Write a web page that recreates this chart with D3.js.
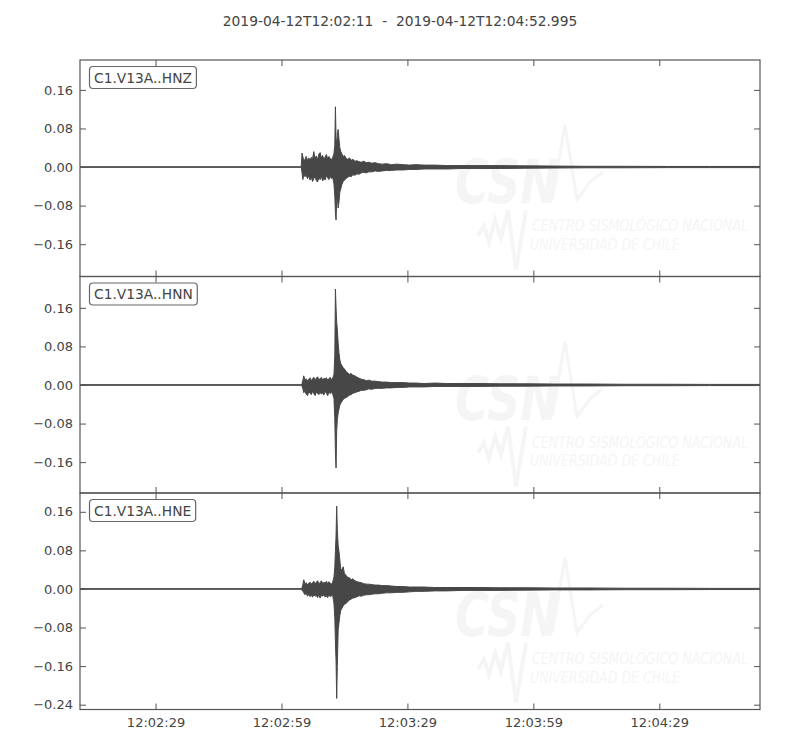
<!DOCTYPE html>
<html>
<head>
<meta charset="utf-8">
<script src="https://cdn.jsdelivr.net/npm/d3@7"></script>
<style>
  html, body { margin: 0; padding: 0; background: #fff; }
  svg { display: block; font-family: "DejaVu Sans", sans-serif; }
  .pre { white-space: pre; }
</style>
</head>
<body>
<svg id="chart" width="800" height="750"></svg>
<script>
// ---------------- DATA ----------------
const titleText = "2019-04-12T12:02:11  -  2019-04-12T12:04:52.995";
const startIso = "2019-04-12T12:02:11Z";
const durationSec = 161.995;
const channels = ["C1.V13A..HNZ", "C1.V13A..HNN", "C1.V13A..HNE"];

// seconds after start time
const timeSec = [0, 52.7, 52.9, 53.1, 53.3, 53.6, 53.9, 54.2, 54.5, 54.8, 55.1, 55.4, 55.7, 56.0, 56.3, 56.6, 56.9,
  57.2, 57.5, 57.8, 58.1, 58.4, 58.7, 59.0, 59.3, 59.6, 59.9, 60.2, 60.5,
  60.7, 60.85, 61.0, 61.15, 61.3, 61.5, 61.7, 61.9, 62.1,
  62.4, 62.7, 63.0, 63.4, 63.8, 64.2, 64.6, 65.0, 65.5, 66.0, 66.5, 67.0, 67.6, 68.2, 68.8, 69.5, 70.3, 71.1,
  72.0, 73.0, 74.2, 75.5, 77.0, 78.5, 80.0,
  82.0, 84.5, 87.5, 91.0, 95.0, 100.0, 106.0, 113.0, 121.0, 130.0, 140.0, 150.0, 162.0];

// envelope maxima / minima per channel
const hnzMax = [0.0006, 0.0006, 0.029, 0.021, 0.012, 0.016, 0.022, 0.013, 0.019, 0.014, 0.020, 0.017, 0.032, 0.018, 0.023, 0.015, 0.027,
  0.030, 0.019, 0.024, 0.016, 0.021, 0.026, 0.017, 0.022, 0.018, 0.015, 0.020, 0.028,
  0.045, 0.125, 0.060, 0.048, 0.065, 0.078, 0.058, 0.040, 0.033,
  0.027, 0.022, 0.024, 0.018, 0.016, 0.019, 0.014, 0.016, 0.012, 0.013, 0.011, 0.010, 0.012, 0.009, 0.010, 0.008, 0.009, 0.007,
  0.006, 0.007, 0.005, 0.006, 0.005, 0.004, 0.005,
  0.004, 0.004, 0.003, 0.003, 0.003, 0.003, 0.0025, 0.002, 0.0015, 0.0015, 0.0012, 0.0012, 0.0012];
const hnzMin = [-0.0006, -0.0006, -0.012, -0.026, -0.015, -0.020, -0.017, -0.024, -0.018, -0.027, -0.021, -0.030, -0.024, -0.020, -0.028, -0.031, -0.022,
  -0.026, -0.019, -0.029, -0.023, -0.027, -0.018, -0.022, -0.026, -0.019, -0.024, -0.021, -0.035,
  -0.060, -0.095, -0.110, -0.070, -0.062, -0.085, -0.072, -0.052, -0.046,
  -0.036, -0.030, -0.027, -0.024, -0.021, -0.019, -0.020, -0.016, -0.017, -0.014, -0.015, -0.012, -0.011, -0.012, -0.010, -0.010, -0.008, -0.009,
  -0.008, -0.007, -0.007, -0.006, -0.006, -0.005, -0.005,
  -0.004, -0.004, -0.004, -0.003, -0.003, -0.003, -0.0025, -0.002, -0.0015, -0.0015, -0.0012, -0.0012, -0.0012];

const hnnMax = [0.0006, 0.0006, 0.003, 0.010, 0.019, 0.010, 0.013, 0.008, 0.012, 0.015, 0.009, 0.013, 0.016, 0.010, 0.014, 0.017, 0.011,
  0.013, 0.016, 0.010, 0.014, 0.012, 0.015, 0.010, 0.013, 0.016, 0.011, 0.014, 0.022,
  0.060, 0.199, 0.160, 0.130, 0.115, 0.088, 0.066, 0.052, 0.045,
  0.040, 0.036, 0.033, 0.028, 0.025, 0.022, 0.024, 0.020, 0.019, 0.016, 0.014, 0.012, 0.011, 0.009, 0.010, 0.008, 0.008, 0.007,
  0.006, 0.006, 0.005, 0.005, 0.005, 0.004, 0.004,
  0.003, 0.004, 0.003, 0.003, 0.003, 0.0025, 0.0025, 0.002, 0.002, 0.0015, 0.0015, 0.0012, 0.0012];
const hnnMin = [-0.0006, -0.0006, -0.003, -0.008, -0.016, -0.013, -0.019, -0.022, -0.014, -0.017, -0.020, -0.013, -0.018, -0.022, -0.015, -0.017, -0.020,
  -0.014, -0.019, -0.016, -0.021, -0.013, -0.017, -0.022, -0.015, -0.018, -0.014, -0.019, -0.028,
  -0.070, -0.140, -0.172, -0.095, -0.072, -0.058, -0.050, -0.042, -0.038,
  -0.034, -0.030, -0.028, -0.026, -0.024, -0.021, -0.020, -0.017, -0.016, -0.014, -0.013, -0.011, -0.011, -0.010, -0.008, -0.009, -0.007, -0.007,
  -0.007, -0.006, -0.006, -0.005, -0.005, -0.004, -0.004,
  -0.004, -0.003, -0.003, -0.003, -0.003, -0.0025, -0.0025, -0.002, -0.002, -0.0015, -0.0015, -0.0012, -0.0012];

const hneMax = [0.0006, 0.0006, 0.003, 0.009, 0.019, 0.010, 0.013, 0.008, 0.012, 0.014, 0.010, 0.013, 0.016, 0.010, 0.014, 0.017, 0.011,
  0.013, 0.017, 0.011, 0.014, 0.012, 0.016, 0.011, 0.015, 0.012, 0.010, 0.014, 0.025,
  0.045, 0.080, 0.110, 0.172, 0.123, 0.090, 0.078, 0.060, 0.042,
  0.040, 0.046, 0.032, 0.028, 0.024, 0.023, 0.019, 0.021, 0.017, 0.015, 0.014, 0.013, 0.011, 0.010, 0.010, 0.009, 0.008, 0.008,
  0.007, 0.007, 0.006, 0.005, 0.005, 0.004, 0.004,
  0.004, 0.003, 0.003, 0.003, 0.003, 0.0025, 0.0025, 0.002, 0.002, 0.0015, 0.0015, 0.0012, 0.0012];
const hneMin = [-0.0006, -0.0006, -0.003, -0.005, -0.008, -0.012, -0.009, -0.015, -0.011, -0.016, -0.012, -0.017, -0.012, -0.015, -0.013, -0.018, -0.012,
  -0.019, -0.013, -0.015, -0.012, -0.017, -0.014, -0.018, -0.012, -0.016, -0.014, -0.013, -0.030,
  -0.060, -0.110, -0.150, -0.227, -0.161, -0.085, -0.070, -0.055, -0.045,
  -0.040, -0.035, -0.032, -0.030, -0.026, -0.023, -0.021, -0.019, -0.018, -0.016, -0.014, -0.015, -0.013, -0.012, -0.012, -0.011, -0.010, -0.010,
  -0.009, -0.008, -0.008, -0.007, -0.007, -0.006, -0.005,
  -0.005, -0.004, -0.004, -0.003, -0.003, -0.003, -0.0025, -0.002, -0.002, -0.0015, -0.0015, -0.0012, -0.0012];

const seriesMax = [hnzMax, hnnMax, hneMax];
const seriesMin = [hnzMin, hnnMin, hneMin];

// y-axis limits per panel and tick values
const yLimits = [[-0.227, 0.222], [-0.224, 0.225], [-0.250, 0.199]];
const yTickValues = [-0.24, -0.16, -0.08, 0, 0.08, 0.16];
const xTickSec = [18, 48, 78, 108, 138];

// watermark texts
const wmLogo = "CSN";
const wmLine1 = "CENTRO SISMOLÓGICO NACIONAL";
const wmLine2 = "UNIVERSIDAD DE CHILE";

// ---------------- LAYOUT ----------------
const svg = d3.select("#chart");
const left = 80, right = 760, top0 = 60, panelH = 216.5;
const ink = "#444444";
const waveColor = "#474747";
const spineColor = "#555555";
const wmColor = "#f5f5f5";
const narrow = "'Liberation Sans Narrow', 'DejaVu Sans Condensed', 'Liberation Sans', sans-serif";

const t0 = new Date(startIso).getTime();
const toDate = s => new Date(t0 + s * 1000);
const x = d3.scaleUtc().domain([toDate(0), toDate(durationSec)]).range([left, right]);
const fmtTime = d3.utcFormat("%H:%M:%S");

// title
svg.append("text")
  .attr("class", "pre")
  .attr("x", 400).attr("y", 26)
  .attr("text-anchor", "middle")
  .attr("font-size", 13.8)
  .attr("fill", ink)
  .text(titleText);

const defs = svg.append("defs");

channels.forEach((ch, i) => {
  const pTop = top0 + i * panelH;
  const pBot = pTop + panelH;
  const y = d3.scaleLinear().domain(yLimits[i]).range([pBot, pTop]);
  const g = svg.append("g");

  defs.append("clipPath").attr("id", "clip" + i)
    .append("rect").attr("x", left).attr("y", pTop).attr("width", right - left).attr("height", panelH);

  // watermark (CSN logo), very faint
  const wm = g.append("g").attr("transform", `translate(0,${pTop})`);
  wm.append("text")
    .attr("x", 455).attr("y", 143)
    .attr("font-family", narrow)
    .attr("font-size", 60).attr("font-weight", "bold").attr("font-style", "italic")
    .attr("textLength", 104).attr("lengthAdjust", "spacingAndGlyphs")
    .attr("fill", wmColor).text(wmLogo);
  wm.append("polyline")
    .attr("points", "478,176 484,166 489,182 495,160 501,178 508,150 516,210 526,150")
    .attr("fill", "none").attr("stroke", wmColor).attr("stroke-width", 4);
  wm.append("polyline")
    .attr("points", "552,140 565,65 577,140 590,122 603,112")
    .attr("fill", "none").attr("stroke", wmColor).attr("stroke-width", 3);
  wm.append("text")
    .attr("x", 532).attr("y", 171)
    .attr("font-family", narrow)
    .attr("font-size", 16).attr("font-style", "italic")
    .attr("textLength", 216).attr("lengthAdjust", "spacingAndGlyphs")
    .attr("fill", wmColor).text(wmLine1);
  wm.append("text")
    .attr("x", 530).attr("y", 189.5)
    .attr("font-family", narrow)
    .attr("font-size", 16).attr("font-style", "italic")
    .attr("textLength", 150).attr("lengthAdjust", "spacingAndGlyphs")
    .attr("fill", wmColor).text(wmLine2);

  // waveform envelope
  const pts = timeSec.map((t, k) => ({ t: toDate(t), hi: seriesMax[i][k], lo: seriesMin[i][k] }));
  const area = d3.area()
    .x(d => x(d.t))
    .y0(d => y(d.lo))
    .y1(d => y(d.hi));
  g.append("path")
    .datum(pts)
    .attr("clip-path", `url(#clip${i})`)
    .attr("d", area)
    .attr("fill", waveColor)
    .attr("stroke", waveColor)
    .attr("stroke-width", 1)
    .attr("stroke-linejoin", "round");

  // axes (classic inward ticks)
  const ticksY = yTickValues.filter(v => v >= yLimits[i][0] && v <= yLimits[i][1]);
  const ticksX = xTickSec.map(toDate);

  const ax = g.append("g").attr("transform", `translate(${left},0)`)
    .call(d3.axisLeft(y).tickValues(ticksY).tickFormat(d3.format(".2f")).tickSize(-6).tickSizeOuter(0).tickPadding(7));
  const axR = g.append("g").attr("transform", `translate(${right},0)`)
    .call(d3.axisRight(y).tickValues(ticksY).tickFormat("").tickSize(-6).tickSizeOuter(0));
  const axT = g.append("g").attr("transform", `translate(0,${pTop})`)
    .call(d3.axisTop(x).tickValues(ticksX).tickFormat("").tickSize(-6).tickSizeOuter(0));
  const axB = g.append("g").attr("transform", `translate(0,${pBot})`)
    .call(d3.axisBottom(x).tickValues(ticksX).tickFormat(i === 2 ? fmtTime : "").tickSize(-6).tickSizeOuter(0).tickPadding(8));

  [ax, axR, axT, axB].forEach(a => {
    a.select(".domain").remove();
    a.selectAll(".tick line").attr("stroke", spineColor).attr("stroke-width", 1);
    a.selectAll(".tick text").attr("fill", ink).attr("font-size", 13).attr("font-family", "DejaVu Sans, sans-serif");
  });

  // frame
  g.append("rect")
    .attr("x", left).attr("y", pTop).attr("width", right - left).attr("height", panelH)
    .attr("fill", "none").attr("stroke", spineColor).attr("stroke-width", 1.2);

  // channel label box
  const lbl = g.append("g");
  const txt = lbl.append("text")
    .attr("x", 94).attr("y", pTop + 22.5)
    .attr("font-size", 13.8).attr("fill", ink)
    .text(ch);
  const bb = txt.node().getBBox();
  lbl.insert("rect", "text")
    .attr("x", bb.x - 4.5).attr("y", pTop + 6.5)
    .attr("width", bb.width + 9).attr("height", 22)
    .attr("rx", 3.5).attr("ry", 3.5)
    .attr("fill", "#fff").attr("stroke", "#666").attr("stroke-width", 1.2);
});
</script>
</body>
</html>
